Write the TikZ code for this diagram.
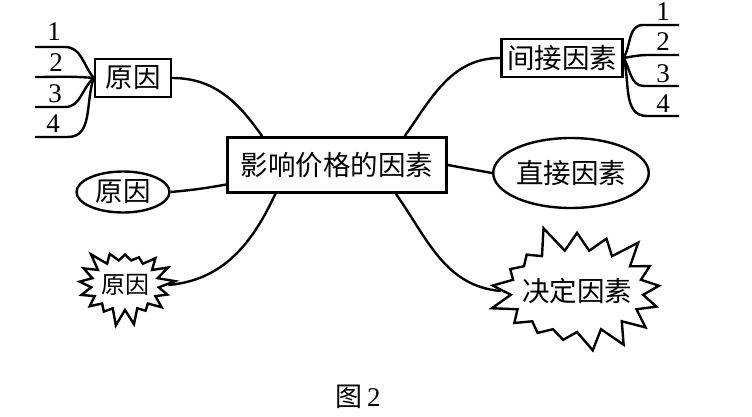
\documentclass[tikz,border=0pt]{standalone}
\usepackage{fontspec}
\setmainfont{Liberation Serif}
\newfontfamily\cjk{Noto Sans CJK SC}
\usetikzlibrary{shapes.geometric,shapes.symbols}

\begin{document}
\begin{tikzpicture}[x=1pt,y=1pt,line width=2.4pt,
  every node/.style={inner sep=0pt},
  cjkbox/.style={draw,rectangle,font=\cjk\fontsize{27.5}{27.5}\selectfont},
  cjkoval/.style={draw,ellipse,font=\cjk\fontsize{27.5}{27.5}\selectfont},
  cjkburst/.style={draw,starburst,font=\cjk\fontsize{27.5}{27.5}\selectfont},
  digit/.style={font=\fontsize{27}{27}\selectfont}]
\useasboundingbox (0,0) rectangle (752,-417);
\node[cjkbox,minimum width=219pt,minimum height=55pt] (factors) at (337,-165) {影响价格的因素};
\node[cjkbox,minimum width=76pt,minimum height=38pt] (cause1) at (133,-78) {原因};
\node[cjkoval,minimum width=93pt,minimum height=41pt] (cause2) at (123,-192) {原因};
\node[cjkburst,font=\cjk\fontsize{24}{24}\selectfont,minimum width=100pt,minimum height=84pt,starburst points=17,starburst point height=17pt,random starburst=3] (cause3) at (125,-285) {原因};
\node[cjkbox,minimum width=121pt,minimum height=38pt] (indirect) at (562,-58) {间接因素};
\node[cjkoval,minimum width=144pt,minimum height=70pt] (direct) at (571,-173) {直接因素};
\node[cjkburst,minimum width=182pt,minimum height=138pt,inner xsep=-8pt,inner ysep=-8pt,starburst points=17,starburst point height=28pt,random starburst=5] (decisive) at (577,-291) {决定因素};
\node[digit] (l1) at (54,-32) {1};
\node[digit] (l2) at (56,-63) {2};
\node[digit] (l3) at (55,-94) {3};
\node[digit] (l4) at (53,-124) {4};
\node[digit] (r1) at (663,-12) {1};
\node[digit] (r2) at (663,-42) {2};
\node[digit] (r3) at (663,-74) {3};
\node[digit] (r4) at (663,-104) {4};
\node[font=\fontsize{27}{27}\selectfont] (caption) at (358,-397) {{\cjk 图}\,2};
\coordinate (a1) at (35,-47);
\coordinate (a2) at (35,-77);
\coordinate (a3) at (35,-107);
\coordinate (a4) at (35,-137);
\coordinate (b1) at (679,-25);
\coordinate (b2) at (679,-55);
\coordinate (b3) at (679,-86);
\coordinate (b4) at (679,-116);
\draw (a1) -- ++(30,0) to[out=0,in=130] (cause1.west);
\draw (a2) to[out=0,in=175] (cause1.west);
\draw (a3) -- ++(30,0) to[out=0,in=-140] (cause1.west);
\draw (a4) -- ++(33,0) to[out=0,in=-110] (cause1.west);
\draw (b1) -- ++(-36,0) to[out=180,in=60] (indirect.east);
\draw (b2) -- ++(-30,0) to[out=180,in=10] (indirect.east);
\draw (b3) -- ++(-35,0) to[out=180,in=-60] (indirect.east);
\draw (b4) -- ++(-32,0) to[out=180,in=-75] (indirect.east);
\draw (cause1.east) to[out=0,in=125] (factors.159);
\draw (cause2.east) to[out=5,in=190] (factors.190);
\draw (cause3.east) to[out=5,in=-115] (factors.205);
\draw (factors.23) to[out=55,in=180] (indirect.west);
\draw (factors.east) -- (direct.west);
\draw (factors.334) to[out=-55,in=175] (decisive.west);
\end{tikzpicture}
\end{document}
